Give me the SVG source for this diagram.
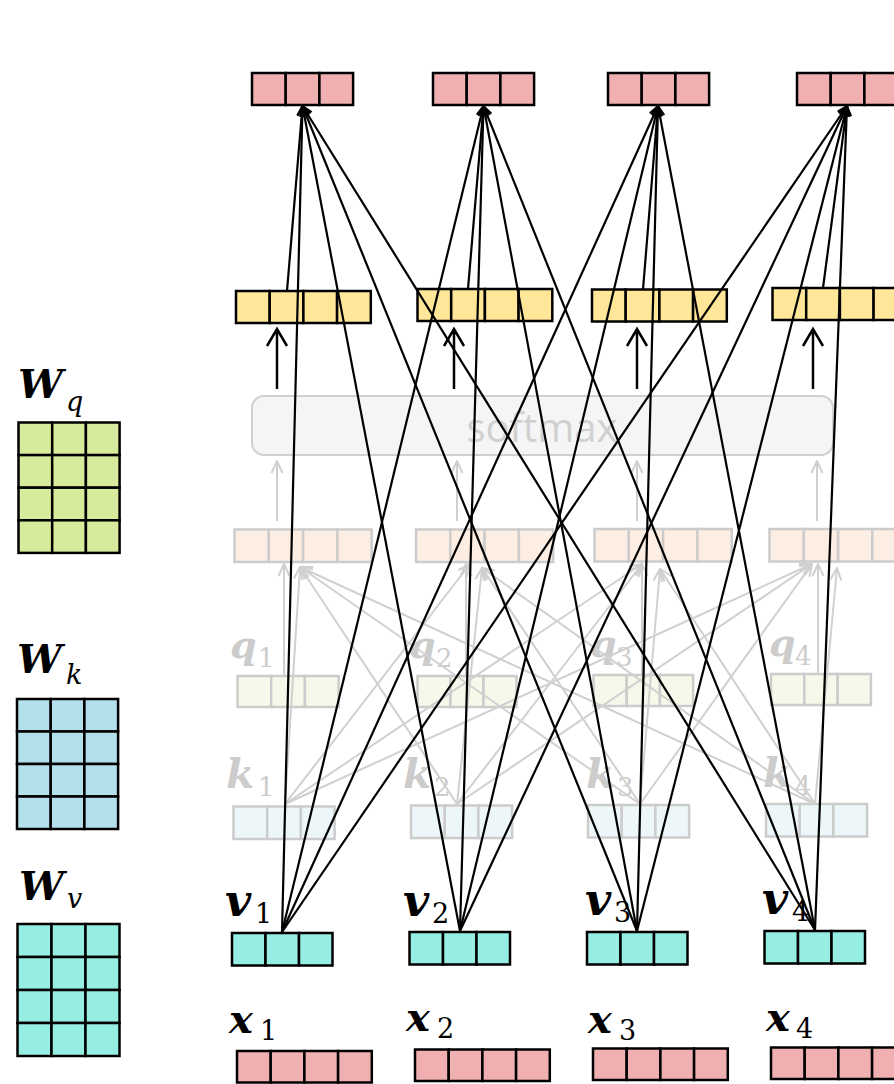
<svg xmlns="http://www.w3.org/2000/svg" width="894" height="1084" viewBox="0 0 894 1084">
  <style>
    .cell { stroke: #000; stroke-width: 2.5; }
    .fcell { stroke: #cccccc; stroke-width: 2.5; }
    .out { fill: #f0b0b1; }
    .yel { fill: #ffe699; }
    .score { fill: #fdeee4; }
    .qv { fill: #f5f9ea; }
    .kv { fill: #edf7fa; }
    .vv { fill: #96eee2; }
    .wq { fill: #d7eb9c; }
    .wk { fill: #b4e0ec; }
    .lbl { font-family: "DejaVu Serif", "Liberation Serif", serif; font-weight: bold; font-style: italic; }
    .sub { font-family: "DejaVu Serif", "Liberation Serif", serif; }
    .faded { fill: #cccccc; }
    .blk { stroke: #000; stroke-width: 2.2; fill: none; }
    .gry { stroke: #d0d0d0; stroke-width: 2; fill: none; }
  </style>
  <defs>
    <marker id="arrowBlack" viewBox="0 0 12 12" refX="11" refY="6" markerWidth="12" markerHeight="12" markerUnits="userSpaceOnUse" orient="auto">
      <path d="M1,1.5 L11,6 L1,10.5" fill="none" stroke="#000" stroke-width="2"/>
    </marker>
    <marker id="arrowGray" viewBox="0 0 14 14" refX="13" refY="7" markerWidth="14" markerHeight="14" markerUnits="userSpaceOnUse" orient="auto">
      <path d="M1,1.5 L13,7 L1,12.5" fill="none" stroke="#d0d0d0" stroke-width="2"/>
    </marker>
  </defs>

  <rect width="894" height="1084" fill="#fff"/>

  <!-- weight matrices -->
  <g id="Wq">
    <g class="cell wq">
      <rect x="18.5" y="422.5" width="33.7" height="32.6"/><rect x="52.2" y="422.5" width="33.7" height="32.6"/><rect x="85.9" y="422.5" width="33.7" height="32.6"/>
      <rect x="18.5" y="455.1" width="33.7" height="32.6"/><rect x="52.2" y="455.1" width="33.7" height="32.6"/><rect x="85.9" y="455.1" width="33.7" height="32.6"/>
      <rect x="18.5" y="487.7" width="33.7" height="32.6"/><rect x="52.2" y="487.7" width="33.7" height="32.6"/><rect x="85.9" y="487.7" width="33.7" height="32.6"/>
      <rect x="18.5" y="520.3" width="33.7" height="32.6"/><rect x="52.2" y="520.3" width="33.7" height="32.6"/><rect x="85.9" y="520.3" width="33.7" height="32.6"/>
    </g>
    <text class="lbl" x="18" y="398" font-size="40">W</text>
    <text class="sub" x="66" y="411" font-size="27" font-style="italic">q</text>
  </g>
  <g id="Wk">
    <g class="cell wk">
      <rect x="17" y="699" width="33.7" height="32.5"/><rect x="50.7" y="699" width="33.7" height="32.5"/><rect x="84.4" y="699" width="33.7" height="32.5"/>
      <rect x="17" y="731.5" width="33.7" height="32.5"/><rect x="50.7" y="731.5" width="33.7" height="32.5"/><rect x="84.4" y="731.5" width="33.7" height="32.5"/>
      <rect x="17" y="764" width="33.7" height="32.5"/><rect x="50.7" y="764" width="33.7" height="32.5"/><rect x="84.4" y="764" width="33.7" height="32.5"/>
      <rect x="17" y="796.5" width="33.7" height="32.5"/><rect x="50.7" y="796.5" width="33.7" height="32.5"/><rect x="84.4" y="796.5" width="33.7" height="32.5"/>
    </g>
    <text class="lbl" x="17" y="673" font-size="40">W</text>
    <text class="sub" x="66" y="684" font-size="27" font-style="italic">k</text>
  </g>
  <g id="Wv">
    <g class="cell vv">
      <rect x="17.5" y="924" width="34" height="33"/><rect x="51.5" y="924" width="34" height="33"/><rect x="85.5" y="924" width="34" height="33"/>
      <rect x="17.5" y="957" width="34" height="33"/><rect x="51.5" y="957" width="34" height="33"/><rect x="85.5" y="957" width="34" height="33"/>
      <rect x="17.5" y="990" width="34" height="33"/><rect x="51.5" y="990" width="34" height="33"/><rect x="85.5" y="990" width="34" height="33"/>
      <rect x="17.5" y="1023" width="34" height="33"/><rect x="51.5" y="1023" width="34" height="33"/><rect x="85.5" y="1023" width="34" height="33"/>
    </g>
    <text class="lbl" x="19" y="900" font-size="40">W</text>
    <text class="sub" x="67" y="908" font-size="27" font-style="italic">v</text>
  </g>

  <!-- softmax block -->
  <g id="softmax">
    <rect x="252" y="396" width="581" height="59" rx="12" fill="#f5f5f5" stroke="#d0d0d0" stroke-width="2"/>
    <text x="542" y="442" font-family="'Open Sans', 'DejaVu Sans', sans-serif" font-size="40" fill="#d0d0d0" text-anchor="middle">softmax</text>
  </g>

  <!-- score vectors (faded) -->
  <g id="scores" class="fcell score">
    <rect x="234.5" y="529.5" width="34.3" height="32.5"/><rect x="268.8" y="529.5" width="34.3" height="32.5"/><rect x="303.1" y="529.5" width="34.3" height="32.5"/><rect x="337.4" y="529.5" width="34.3" height="32.5"/>
    <rect x="416" y="529.5" width="34.3" height="32.5"/><rect x="450.3" y="529.5" width="34.3" height="32.5"/><rect x="484.6" y="529.5" width="34.3" height="32.5"/><rect x="518.9" y="529.5" width="34.3" height="32.5"/>
    <rect x="594.5" y="529" width="34.3" height="32.5"/><rect x="628.8" y="529" width="34.3" height="32.5"/><rect x="663.1" y="529" width="34.3" height="32.5"/><rect x="697.4" y="529" width="34.3" height="32.5"/>
    <rect x="769.5" y="529" width="34.3" height="32.5"/><rect x="803.8" y="529" width="34.3" height="32.5"/><rect x="838.1" y="529" width="34.3" height="32.5"/><rect x="872.4" y="529" width="34.3" height="32.5"/>
  </g>

  <!-- queries (faded) -->
  <g id="q1">
    <g class="fcell qv"><rect x="237.5" y="676" width="33.7" height="31"/><rect x="271.2" y="676" width="33.7" height="31"/><rect x="304.9" y="676" width="33.7" height="31"/></g>
    <text class="lbl faded" x="230" y="658" font-size="38">q</text><text class="sub faded" x="258" y="667" font-size="26">1</text>
  </g>
  <g id="q2">
    <g class="fcell qv"><rect x="417.5" y="676" width="33" height="31"/><rect x="450.5" y="676" width="33" height="31"/><rect x="483.5" y="676" width="33" height="31"/></g>
    <text class="lbl faded" x="409" y="658" font-size="38">q</text><text class="sub faded" x="436" y="667" font-size="26">2</text>
  </g>
  <g id="q3">
    <g class="fcell qv"><rect x="593.5" y="675" width="33.2" height="31"/><rect x="626.7" y="675" width="33.2" height="31"/><rect x="659.9" y="675" width="33.2" height="31"/></g>
    <text class="lbl faded" x="590" y="657" font-size="38">q</text><text class="sub faded" x="616" y="666" font-size="26">3</text>
  </g>
  <g id="q4">
    <g class="fcell qv"><rect x="771" y="674" width="33.3" height="31"/><rect x="804.3" y="674" width="33.3" height="31"/><rect x="837.6" y="674" width="33.3" height="31"/></g>
    <text class="lbl faded" x="769" y="656" font-size="38">q</text><text class="sub faded" x="795" y="665" font-size="26">4</text>
  </g>

  <!-- keys (faded) -->
  <g id="k1">
    <g class="fcell kv"><rect x="233.5" y="806.5" width="33.7" height="32.5"/><rect x="267.2" y="806.5" width="33.7" height="32.5"/><rect x="300.9" y="806.5" width="33.7" height="32.5"/></g>
    <text class="lbl faded" x="226" y="788" font-size="41">k</text><text class="sub faded" x="258" y="796" font-size="26">1</text>
  </g>
  <g id="k2">
    <g class="fcell kv"><rect x="411" y="805.5" width="33.7" height="32.5"/><rect x="444.7" y="805.5" width="33.7" height="32.5"/><rect x="478.4" y="805.5" width="33.7" height="32.5"/></g>
    <text class="lbl faded" x="403" y="788" font-size="41">k</text><text class="sub faded" x="434" y="796" font-size="26">2</text>
  </g>
  <g id="k3">
    <g class="fcell kv"><rect x="588" y="805" width="33.7" height="32.5"/><rect x="621.7" y="805" width="33.7" height="32.5"/><rect x="655.4" y="805" width="33.7" height="32.5"/></g>
    <text class="lbl faded" x="586" y="788" font-size="41">k</text><text class="sub faded" x="617" y="796" font-size="26">3</text>
  </g>
  <g id="k4">
    <g class="fcell kv"><rect x="766" y="804" width="33.7" height="32.5"/><rect x="799.7" y="804" width="33.7" height="32.5"/><rect x="833.4" y="804" width="33.7" height="32.5"/></g>
    <text class="lbl faded" x="763" y="787" font-size="41">k</text><text class="sub faded" x="795" y="795" font-size="26">4</text>
  </g>

  <!-- faded connectors: queries/keys to scores, scores through softmax -->
  <g id="faded-connectors" class="gry" marker-end="url(#arrowGray)">
    <line x1="284" y1="676" x2="284" y2="564"/>
    <line x1="466" y1="676" x2="466" y2="564"/>
    <line x1="642" y1="675" x2="642" y2="564"/>
    <line x1="818" y1="674" x2="818" y2="564"/>

    <line x1="285" y1="804" x2="300" y2="567"/>
    <line x1="457" y1="804" x2="300" y2="567"/>
    <line x1="640" y1="804" x2="300" y2="567"/>
    <line x1="815" y1="804" x2="300" y2="567"/>

    <line x1="285" y1="804" x2="470" y2="564"/>
    <line x1="457" y1="804" x2="482" y2="568"/>
    <line x1="640" y1="804" x2="482" y2="568"/>
    <line x1="815" y1="804" x2="482" y2="568"/>

    <line x1="285" y1="804" x2="642" y2="564"/>
    <line x1="457" y1="804" x2="642" y2="564"/>
    <line x1="640" y1="804" x2="660" y2="569"/>
    <line x1="815" y1="804" x2="660" y2="569"/>

    <line x1="285" y1="804" x2="812" y2="564"/>
    <line x1="457" y1="804" x2="812" y2="564"/>
    <line x1="640" y1="804" x2="812" y2="564"/>
    <line x1="815" y1="804" x2="837" y2="568"/>

    <line x1="277" y1="521" x2="277" y2="461"/>
    <line x1="457" y1="521" x2="457" y2="461"/>
    <line x1="637" y1="521" x2="637" y2="461"/>
    <line x1="817" y1="521" x2="817" y2="461"/>
  </g>

  <!-- attention weights -->
  <g id="a1" class="cell yel"><rect x="236" y="291" width="33.7" height="32"/><rect x="269.7" y="291" width="33.7" height="32"/><rect x="303.4" y="291" width="33.7" height="32"/><rect x="337.1" y="291" width="33.7" height="32"/></g>
  <g id="a2" class="cell yel"><rect x="417.5" y="289" width="33.7" height="32"/><rect x="451.2" y="289" width="33.7" height="32"/><rect x="484.9" y="289" width="33.7" height="32"/><rect x="518.6" y="289" width="33.7" height="32"/></g>
  <g id="a3" class="cell yel"><rect x="592" y="289.5" width="33.7" height="32"/><rect x="625.7" y="289.5" width="33.7" height="32"/><rect x="659.4" y="289.5" width="33.7" height="32"/><rect x="693.1" y="289.5" width="33.7" height="32"/></g>
  <g id="a4" class="cell yel"><rect x="772.5" y="288" width="33.7" height="32"/><rect x="806.2" y="288" width="33.7" height="32"/><rect x="839.9" y="288" width="33.7" height="32"/><rect x="873.6" y="288" width="33.7" height="32"/></g>

  <!-- outputs -->
  <g id="h1" class="cell out"><rect x="252" y="73" width="33.7" height="32"/><rect x="285.7" y="73" width="33.7" height="32"/><rect x="319.4" y="73" width="33.7" height="32"/></g>
  <g id="h2" class="cell out"><rect x="433" y="73" width="33.7" height="32"/><rect x="466.7" y="73" width="33.7" height="32"/><rect x="500.4" y="73" width="33.7" height="32"/></g>
  <g id="h3" class="cell out"><rect x="608" y="73" width="33.7" height="32"/><rect x="641.7" y="73" width="33.7" height="32"/><rect x="675.4" y="73" width="33.7" height="32"/></g>
  <g id="h4" class="cell out"><rect x="797" y="73" width="33.7" height="32"/><rect x="830.7" y="73" width="33.7" height="32"/><rect x="864.4" y="73" width="33.7" height="32"/></g>

  <!-- values -->
  <g id="v1">
    <g class="cell vv"><rect x="232" y="933" width="33.5" height="32.5"/><rect x="265.5" y="933" width="33.5" height="32.5"/><rect x="299" y="933" width="33.5" height="32.5"/></g>
    <text class="lbl" x="225" y="916" font-size="45">v</text><text class="sub" x="255" y="923" font-size="27">1</text>
  </g>
  <g id="v2">
    <g class="cell vv"><rect x="409.5" y="932" width="33.5" height="32.5"/><rect x="443" y="932" width="33.5" height="32.5"/><rect x="476.5" y="932" width="33.5" height="32.5"/></g>
    <text class="lbl" x="403" y="916" font-size="45">v</text><text class="sub" x="432" y="923" font-size="27">2</text>
  </g>
  <g id="v3">
    <g class="cell vv"><rect x="587" y="932" width="33.5" height="32.5"/><rect x="620.5" y="932" width="33.5" height="32.5"/><rect x="654" y="932" width="33.5" height="32.5"/></g>
    <text class="lbl" x="585" y="915" font-size="45">v</text><text class="sub" x="614" y="922" font-size="27">3</text>
  </g>
  <g id="v4">
    <g class="cell vv"><rect x="764.5" y="931" width="33.5" height="32.5"/><rect x="798" y="931" width="33.5" height="32.5"/><rect x="831.5" y="931" width="33.5" height="32.5"/></g>
    <text class="lbl" x="762" y="914" font-size="45">v</text><text class="sub" x="792" y="921" font-size="27">4</text>
  </g>

  <!-- inputs -->
  <g id="x1">
    <g class="cell out"><rect x="237" y="1051" width="33.7" height="31.5"/><rect x="270.7" y="1051" width="33.7" height="31.5"/><rect x="304.4" y="1051" width="33.7" height="31.5"/><rect x="338.1" y="1051" width="33.7" height="31.5"/></g>
    <text class="lbl" x="229" y="1033" font-size="40">x</text><text class="sub" x="260" y="1040" font-size="27">1</text>
  </g>
  <g id="x2">
    <g class="cell out"><rect x="415" y="1049.5" width="33.7" height="31.5"/><rect x="448.7" y="1049.5" width="33.7" height="31.5"/><rect x="482.4" y="1049.5" width="33.7" height="31.5"/><rect x="516.1" y="1049.5" width="33.7" height="31.5"/></g>
    <text class="lbl" x="406" y="1031" font-size="40">x</text><text class="sub" x="437" y="1038" font-size="27">2</text>
  </g>
  <g id="x3">
    <g class="cell out"><rect x="593" y="1048.5" width="33.7" height="31.5"/><rect x="626.7" y="1048.5" width="33.7" height="31.5"/><rect x="660.4" y="1048.5" width="33.7" height="31.5"/><rect x="694.1" y="1048.5" width="33.7" height="31.5"/></g>
    <text class="lbl" x="588" y="1033" font-size="40">x</text><text class="sub" x="619" y="1040" font-size="27">3</text>
  </g>
  <g id="x4">
    <g class="cell out"><rect x="771" y="1047.5" width="33.7" height="31.5"/><rect x="804.7" y="1047.5" width="33.7" height="31.5"/><rect x="838.4" y="1047.5" width="33.7" height="31.5"/><rect x="872.1" y="1047.5" width="33.7" height="31.5"/></g>
    <text class="lbl" x="766" y="1031" font-size="40">x</text><text class="sub" x="796" y="1038" font-size="27">4</text>
  </g>

  <!-- highlighted connectors: weights and values into outputs -->
  <g id="connectors" class="blk">
    <g marker-end="url(#arrowBlack)">
      <line x1="282" y1="932" x2="302.5" y2="106"/>
      <line x1="460" y1="931" x2="302.5" y2="106"/>
      <line x1="637" y1="931" x2="302.5" y2="106"/>
      <line x1="815" y1="930" x2="302.5" y2="106"/>
      <line x1="287" y1="291" x2="302.5" y2="106"/>

      <line x1="282" y1="932" x2="483.5" y2="106"/>
      <line x1="460" y1="931" x2="483.5" y2="106"/>
      <line x1="637" y1="931" x2="483.5" y2="106"/>
      <line x1="815" y1="930" x2="483.5" y2="106"/>
      <line x1="468" y1="289" x2="483.5" y2="106"/>

      <line x1="282" y1="932" x2="658" y2="106"/>
      <line x1="460" y1="931" x2="658" y2="106"/>
      <line x1="637" y1="931" x2="658" y2="106"/>
      <line x1="815" y1="930" x2="658" y2="106"/>
      <line x1="643" y1="289.5" x2="658" y2="106"/>

      <line x1="282" y1="932" x2="847" y2="106"/>
      <line x1="460" y1="931" x2="847" y2="106"/>
      <line x1="637" y1="931" x2="847" y2="106"/>
      <line x1="815" y1="930" x2="847" y2="106"/>
      <line x1="823" y1="288" x2="847" y2="106"/>
    </g>
    <!-- softmax outputs up into the weight vectors -->
    <g stroke-width="2.5">
      <path d="M277,389 V329 M267,346 L277,329 L287,346"/>
      <path d="M454,389 V329 M444,346 L454,329 L464,346"/>
      <path d="M637,389 V329 M627,346 L637,329 L647,346"/>
      <path d="M813,389 V329 M803,346 L813,329 L823,346"/>
    </g>
  </g>
</svg>
